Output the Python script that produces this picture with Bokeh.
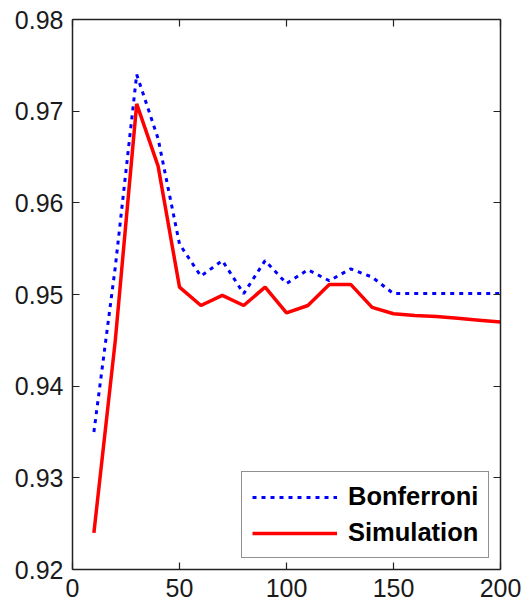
from bokeh.plotting import figure
from bokeh.models import (Range1d, FixedTicker, LinearAxis, Legend, LegendItem,
                          ColumnDataSource)
from bokeh.embed import file_html
from bokeh.resources import INLINE

# ---- data ----
n_values = [10, 20, 30, 40, 50, 60, 70, 80, 90, 100,
            110, 120, 130, 140, 150, 160, 170, 180, 190, 200]
bonferroni = [0.935, 0.953, 0.974, 0.967, 0.9555, 0.952, 0.9537, 0.9501, 0.9537, 0.9512,
              0.9527, 0.9515, 0.9528, 0.9519, 0.9501, 0.9501, 0.9501, 0.9501, 0.9501, 0.9501]
simulation = [0.924, 0.945, 0.9708, 0.964, 0.9508, 0.9488, 0.9499, 0.9488, 0.9508, 0.948,
              0.9488, 0.9511, 0.9511, 0.9486, 0.9479, 0.9477, 0.9476, 0.9474, 0.9472, 0.947]
x_ticks = [0, 50, 100, 150, 200]
y_ticks = [0.92, 0.93, 0.94, 0.95, 0.96, 0.97, 0.98]
y_tick_labels = ["0.92", "0.93", "0.94", "0.95", "0.96", "0.97", "0.98"]
series_names = ["Bonferroni", "Simulation"]

src = ColumnDataSource(dict(x=n_values, b=bonferroni, s=simulation))

p = figure(width=531, height=612, output_backend="svg", toolbar_location=None,
           x_range=Range1d(0, 200), y_range=Range1d(0.92, 0.98),
           x_axis_location=None, y_axis_location=None,
           min_border_left=72, min_border_right=31, min_border_top=19, min_border_bottom=43)
p.background_fill_color = "white"
p.border_fill_color = "white"
p.outline_line_color = None
p.xgrid.visible = False
p.ygrid.visible = False

FONT = "Liberation Sans"
AX_COLOR = "#222222"

def style_axis(ax, show_labels):
    ax.axis_line_color = AX_COLOR
    ax.axis_line_width = 1.5
    ax.major_tick_line_color = AX_COLOR
    ax.major_tick_line_width = 1.2
    ax.major_tick_in = 7
    ax.major_tick_out = 0
    ax.minor_tick_in = 0
    ax.minor_tick_out = 0
    ax.minor_tick_line_color = None
    ax.major_label_text_font = FONT
    ax.major_label_text_color = "#1a1a1a"
    if show_labels:
        ax.major_label_text_font_size = "25px"
        ax.major_label_standoff = 9
    else:
        ax.major_label_text_font_size = "2px"
        ax.major_label_standoff = 0

xb = LinearAxis(ticker=FixedTicker(ticks=x_ticks))
style_axis(xb, True)
xt = LinearAxis(ticker=FixedTicker(ticks=x_ticks),
                major_label_overrides={t: "" for t in x_ticks})
style_axis(xt, False)
yl = LinearAxis(ticker=FixedTicker(ticks=y_ticks),
                major_label_overrides={t: l for t, l in zip(y_ticks, y_tick_labels)})
style_axis(yl, True)
yr = LinearAxis(ticker=FixedTicker(ticks=y_ticks),
                major_label_overrides={t: "" for t in y_ticks})
style_axis(yr, False)

p.add_layout(xb, "below")
p.add_layout(xt, "above")
p.add_layout(yl, "left")
p.add_layout(yr, "right")

r_b = p.line("x", "b", source=src, line_color="#0000ff", line_width=3,
             line_dash="4 5", line_cap="butt")
r_s = p.line("x", "s", source=src, line_color="#ff0000", line_width=3.5)

legend = Legend(items=[LegendItem(label=series_names[0], renderers=[r_b]),
                       LegendItem(label=series_names[1], renderers=[r_s])],
                location=(169, 11))
legend.label_text_font = FONT
legend.label_text_font_style = "bold"
legend.label_text_font_size = "25.5px"
legend.label_text_color = "black"
legend.border_line_color = AX_COLOR
legend.border_line_width = 1.5
legend.background_fill_color = "white"
legend.background_fill_alpha = 1.0
legend.padding = 10
legend.spacing = 7
legend.glyph_height = 26
legend.glyph_width = 85
legend.label_height = 26
legend.label_standoff = 11
legend.margin = 0
p.add_layout(legend, "center")

open("out.html", "w").write(file_html(p, INLINE))
